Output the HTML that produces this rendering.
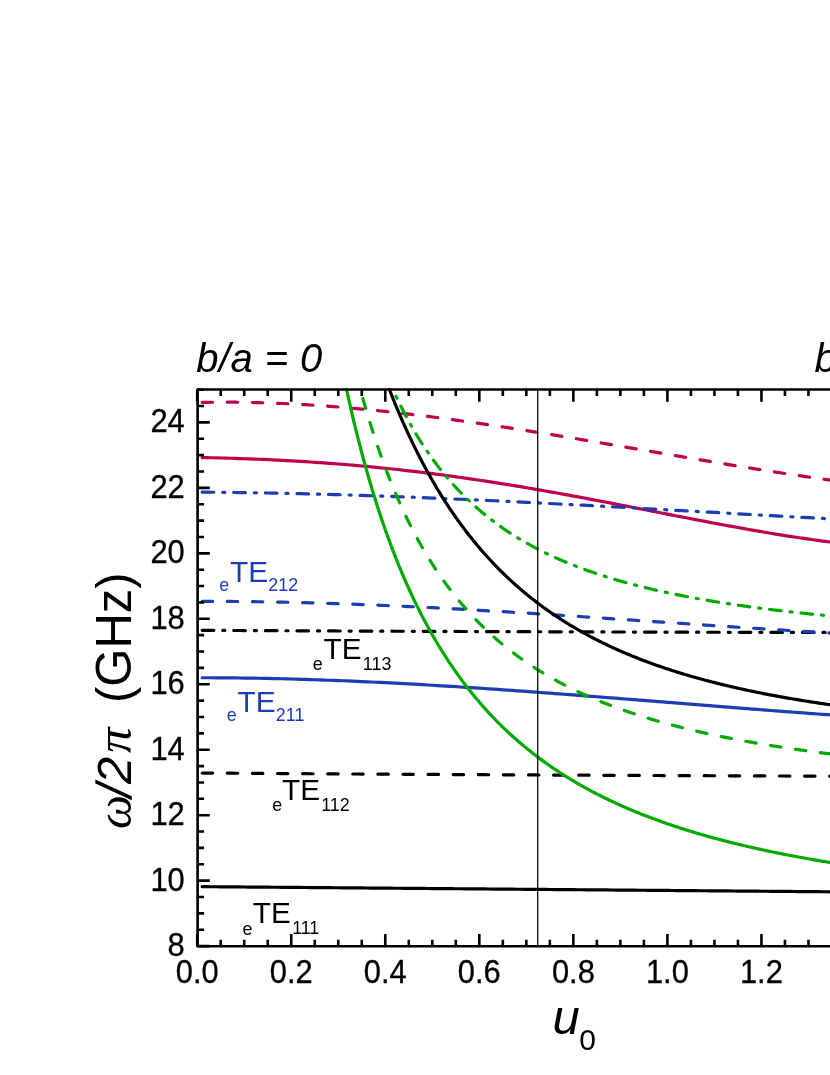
<!DOCTYPE html>
<html><head><meta charset="utf-8"><title>chart</title>
<style>
html,body{margin:0;padding:0;background:#fff;}
body{width:830px;height:1075px;overflow:hidden;font-family:"Liberation Sans",sans-serif;}
svg{display:block;will-change:transform;}
svg text{font-family:"Liberation Sans",sans-serif;}
svg text.ser{font-family:"Liberation Serif",serif;}
</style></head><body>
<svg width="830" height="1075" viewBox="0 0 830 1075">
<rect width="830" height="1075" fill="#fff"/>
<g id="curves">
<path d="M202.20 402.37 L206.90 402.30 L211.60 402.24 L216.30 402.20 L221.00 402.18 L225.70 402.18 L230.40 402.19 L235.10 402.22 L239.80 402.27 L244.50 402.34 L249.20 402.43 L253.90 402.53 L258.60 402.65 L263.30 402.78 L268.00 402.94 L272.70 403.10 L277.40 403.29 L282.10 403.49 L286.80 403.70 L291.50 403.93 L296.20 404.18 L300.90 404.44 L305.60 404.72 L310.30 405.01 L315.00 405.31 L319.70 405.63 L324.40 405.96 L329.10 406.31 L333.80 406.67 L338.50 407.04 L343.20 407.43 L347.90 407.83 L352.60 408.24 L357.30 408.66 L362.00 409.10 L366.70 409.55 L371.40 410.01 L376.10 410.48 L380.80 410.97 L385.50 411.46 L390.20 411.97 L394.90 412.49 L399.60 413.02 L404.30 413.55 L409.00 414.10 L413.70 414.66 L418.40 415.23 L423.10 415.81 L427.80 416.40 L432.50 417.00 L437.20 417.60 L441.90 418.22 L446.60 418.84 L451.30 419.48 L456.00 420.12 L460.70 420.77 L465.40 421.42 L470.10 422.09 L474.80 422.76 L479.50 423.44 L484.20 424.13 L488.90 424.82 L493.60 425.52 L498.30 426.23 L503.00 426.94 L507.70 427.66 L512.40 428.38 L517.10 429.11 L521.80 429.85 L526.50 430.59 L531.20 431.34 L535.90 432.09 L540.60 432.84 L545.30 433.60 L550.00 434.37 L554.70 435.14 L559.40 435.91 L564.10 436.68 L568.80 437.46 L573.50 438.25 L578.20 439.03 L582.90 439.82 L587.60 440.61 L592.30 441.40 L597.00 442.20 L601.70 443.00 L606.40 443.80 L611.10 444.60 L615.80 445.40 L620.50 446.20 L625.20 447.01 L629.90 447.81 L634.60 448.62 L639.30 449.42 L644.00 450.23 L648.70 451.04 L653.40 451.84 L658.10 452.65 L662.80 453.46 L667.50 454.26 L672.20 455.06 L676.90 455.87 L681.60 456.67 L686.30 457.47 L691.00 458.26 L695.70 459.06 L700.40 459.85 L705.10 460.64 L709.80 461.43 L714.50 462.22 L719.20 463.00 L723.90 463.78 L728.60 464.55 L733.30 465.32 L738.00 466.09 L742.70 466.85 L747.40 467.61 L752.10 468.37 L756.80 469.12 L761.50 469.87 L766.20 470.61 L770.90 471.34 L775.60 472.07 L780.30 472.79 L785.00 473.51 L789.70 474.23 L794.40 474.93 L799.10 475.63 L803.80 476.32 L808.50 477.01 L813.20 477.69 L817.90 478.36 L822.60 479.02 L827.30 479.68 L832.00 480.33 L836.70 480.97 L841.40 481.60 L846.10 482.22 L850.80 482.84 L855.50 483.44" fill="none" stroke="#BE0050" stroke-width="3.2" stroke-linecap="round" stroke-linejoin="round" stroke-dasharray="10.4 14.7"/>
<path d="M202.20 457.56 L206.90 457.66 L211.60 457.77 L216.30 457.88 L221.00 458.00 L225.70 458.13 L230.40 458.27 L235.10 458.41 L239.80 458.56 L244.50 458.73 L249.20 458.90 L253.90 459.07 L258.60 459.26 L263.30 459.46 L268.00 459.67 L272.70 459.88 L277.40 460.11 L282.10 460.35 L286.80 460.59 L291.50 460.85 L296.20 461.11 L300.90 461.39 L305.60 461.68 L310.30 461.98 L315.00 462.29 L319.70 462.61 L324.40 462.94 L329.10 463.28 L333.80 463.63 L338.50 464.00 L343.20 464.37 L347.90 464.76 L352.60 465.16 L357.30 465.57 L362.00 465.99 L366.70 466.42 L371.40 466.87 L376.10 467.32 L380.80 467.79 L385.50 468.27 L390.20 468.76 L394.90 469.26 L399.60 469.77 L404.30 470.30 L409.00 470.84 L413.70 471.38 L418.40 471.94 L423.10 472.51 L427.80 473.09 L432.50 473.69 L437.20 474.29 L441.90 474.90 L446.60 475.53 L451.30 476.17 L456.00 476.81 L460.70 477.47 L465.40 478.14 L470.10 478.82 L474.80 479.51 L479.50 480.21 L484.20 480.92 L488.90 481.64 L493.60 482.36 L498.30 483.10 L503.00 483.85 L507.70 484.61 L512.40 485.37 L517.10 486.15 L521.80 486.93 L526.50 487.72 L531.20 488.52 L535.90 489.33 L540.60 490.15 L545.30 490.97 L550.00 491.80 L554.70 492.64 L559.40 493.48 L564.10 494.34 L568.80 495.19 L573.50 496.06 L578.20 496.93 L582.90 497.80 L587.60 498.68 L592.30 499.57 L597.00 500.46 L601.70 501.35 L606.40 502.25 L611.10 503.15 L615.80 504.06 L620.50 504.97 L625.20 505.88 L629.90 506.79 L634.60 507.71 L639.30 508.62 L644.00 509.54 L648.70 510.46 L653.40 511.38 L658.10 512.30 L662.80 513.22 L667.50 514.14 L672.20 515.06 L676.90 515.97 L681.60 516.89 L686.30 517.80 L691.00 518.71 L695.70 519.62 L700.40 520.52 L705.10 521.42 L709.80 522.31 L714.50 523.20 L719.20 524.08 L723.90 524.96 L728.60 525.83 L733.30 526.69 L738.00 527.55 L742.70 528.39 L747.40 529.23 L752.10 530.06 L756.80 530.88 L761.50 531.69 L766.20 532.49 L770.90 533.28 L775.60 534.06 L780.30 534.82 L785.00 535.58 L789.70 536.31 L794.40 537.04 L799.10 537.75 L803.80 538.44 L808.50 539.12 L813.20 539.78 L817.90 540.42 L822.60 541.05 L827.30 541.66 L832.00 542.25 L836.70 542.82 L841.40 543.37 L846.10 543.89 L850.80 544.40 L855.50 544.89" fill="none" stroke="#BE0050" stroke-width="3.2" stroke-linecap="round" stroke-linejoin="round"/>
<path d="M202.20 492.17 L206.90 492.20 L211.60 492.24 L216.30 492.28 L221.00 492.32 L225.70 492.37 L230.40 492.42 L235.10 492.48 L239.80 492.54 L244.50 492.60 L249.20 492.67 L253.90 492.75 L258.60 492.82 L263.30 492.90 L268.00 492.99 L272.70 493.08 L277.40 493.17 L282.10 493.26 L286.80 493.36 L291.50 493.47 L296.20 493.57 L300.90 493.68 L305.60 493.80 L310.30 493.91 L315.00 494.03 L319.70 494.16 L324.40 494.28 L329.10 494.41 L333.80 494.55 L338.50 494.68 L343.20 494.82 L347.90 494.97 L352.60 495.11 L357.30 495.26 L362.00 495.41 L366.70 495.57 L371.40 495.73 L376.10 495.89 L380.80 496.05 L385.50 496.22 L390.20 496.39 L394.90 496.56 L399.60 496.73 L404.30 496.91 L409.00 497.09 L413.70 497.27 L418.40 497.46 L423.10 497.65 L427.80 497.84 L432.50 498.03 L437.20 498.22 L441.90 498.42 L446.60 498.62 L451.30 498.82 L456.00 499.03 L460.70 499.23 L465.40 499.44 L470.10 499.65 L474.80 499.86 L479.50 500.08 L484.20 500.29 L488.90 500.51 L493.60 500.73 L498.30 500.95 L503.00 501.18 L507.70 501.40 L512.40 501.63 L517.10 501.86 L521.80 502.09 L526.50 502.32 L531.20 502.56 L535.90 502.79 L540.60 503.03 L545.30 503.27 L550.00 503.51 L554.70 503.75 L559.40 503.99 L564.10 504.23 L568.80 504.48 L573.50 504.72 L578.20 504.97 L582.90 505.22 L587.60 505.47 L592.30 505.72 L597.00 505.97 L601.70 506.22 L606.40 506.48 L611.10 506.73 L615.80 506.99 L620.50 507.24 L625.20 507.50 L629.90 507.76 L634.60 508.02 L639.30 508.27 L644.00 508.53 L648.70 508.79 L653.40 509.06 L658.10 509.32 L662.80 509.58 L667.50 509.84 L672.20 510.10 L676.90 510.37 L681.60 510.63 L686.30 510.89 L691.00 511.15 L695.70 511.42 L700.40 511.68 L705.10 511.95 L709.80 512.21 L714.50 512.47 L719.20 512.74 L723.90 513.00 L728.60 513.27 L733.30 513.53 L738.00 513.79 L742.70 514.06 L747.40 514.32 L752.10 514.58 L756.80 514.84 L761.50 515.11 L766.20 515.37 L770.90 515.63 L775.60 515.89 L780.30 516.15 L785.00 516.41 L789.70 516.67 L794.40 516.92 L799.10 517.18 L803.80 517.44 L808.50 517.69 L813.20 517.95 L817.90 518.20 L822.60 518.46 L827.30 518.71 L832.00 518.96 L836.70 519.21 L841.40 519.46 L846.10 519.71 L850.80 519.96 L855.50 520.20" fill="none" stroke="#1A3CB4" stroke-width="3.2" stroke-linecap="round" stroke-linejoin="round" stroke-dasharray="11.6 8.95 2.1 8.94"/>
<path d="M202.20 630.33 L206.90 630.36 L211.60 630.38 L216.30 630.41 L221.00 630.43 L225.70 630.45 L230.40 630.48 L235.10 630.50 L239.80 630.52 L244.50 630.55 L249.20 630.57 L253.90 630.59 L258.60 630.62 L263.30 630.64 L268.00 630.66 L272.70 630.68 L277.40 630.71 L282.10 630.73 L286.80 630.75 L291.50 630.77 L296.20 630.80 L300.90 630.82 L305.60 630.84 L310.30 630.86 L315.00 630.88 L319.70 630.90 L324.40 630.92 L329.10 630.94 L333.80 630.97 L338.50 630.99 L343.20 631.01 L347.90 631.03 L352.60 631.05 L357.30 631.07 L362.00 631.09 L366.70 631.11 L371.40 631.13 L376.10 631.15 L380.80 631.17 L385.50 631.19 L390.20 631.21 L394.90 631.23 L399.60 631.24 L404.30 631.26 L409.00 631.28 L413.70 631.30 L418.40 631.32 L423.10 631.34 L427.80 631.36 L432.50 631.38 L437.20 631.39 L441.90 631.41 L446.60 631.43 L451.30 631.45 L456.00 631.46 L460.70 631.48 L465.40 631.50 L470.10 631.52 L474.80 631.53 L479.50 631.55 L484.20 631.57 L488.90 631.58 L493.60 631.60 L498.30 631.62 L503.00 631.63 L507.70 631.65 L512.40 631.67 L517.10 631.68 L521.80 631.70 L526.50 631.71 L531.20 631.73 L535.90 631.75 L540.60 631.76 L545.30 631.78 L550.00 631.79 L554.70 631.81 L559.40 631.82 L564.10 631.84 L568.80 631.85 L573.50 631.87 L578.20 631.88 L582.90 631.89 L587.60 631.91 L592.30 631.92 L597.00 631.94 L601.70 631.95 L606.40 631.96 L611.10 631.98 L615.80 631.99 L620.50 632.00 L625.20 632.02 L629.90 632.03 L634.60 632.04 L639.30 632.06 L644.00 632.07 L648.70 632.08 L653.40 632.09 L658.10 632.11 L662.80 632.12 L667.50 632.13 L672.20 632.14 L676.90 632.15 L681.60 632.17 L686.30 632.18 L691.00 632.19 L695.70 632.20 L700.40 632.21 L705.10 632.22 L709.80 632.23 L714.50 632.24 L719.20 632.25 L723.90 632.27 L728.60 632.28 L733.30 632.29 L738.00 632.30 L742.70 632.31 L747.40 632.32 L752.10 632.33 L756.80 632.34 L761.50 632.35 L766.20 632.35 L770.90 632.36 L775.60 632.37 L780.30 632.38 L785.00 632.39 L789.70 632.40 L794.40 632.41 L799.10 632.42 L803.80 632.43 L808.50 632.43 L813.20 632.44 L817.90 632.45 L822.60 632.46 L827.30 632.47 L832.00 632.47 L836.70 632.48 L841.40 632.49 L846.10 632.50 L850.80 632.50 L855.50 632.51" fill="none" stroke="#000" stroke-width="3.2" stroke-linecap="round" stroke-linejoin="round" stroke-dasharray="11.6 8.95 2.1 8.94"/>
<path d="M202.20 601.42 L206.90 601.41 L211.60 601.41 L216.30 601.42 L221.00 601.43 L225.70 601.45 L230.40 601.47 L235.10 601.50 L239.80 601.54 L244.50 601.58 L249.20 601.63 L253.90 601.69 L258.60 601.75 L263.30 601.82 L268.00 601.89 L272.70 601.97 L277.40 602.06 L282.10 602.15 L286.80 602.25 L291.50 602.35 L296.20 602.46 L300.90 602.58 L305.60 602.70 L310.30 602.82 L315.00 602.95 L319.70 603.09 L324.40 603.23 L329.10 603.37 L333.80 603.53 L338.50 603.68 L343.20 603.84 L347.90 604.01 L352.60 604.18 L357.30 604.35 L362.00 604.53 L366.70 604.71 L371.40 604.90 L376.10 605.09 L380.80 605.29 L385.50 605.49 L390.20 605.70 L394.90 605.91 L399.60 606.12 L404.30 606.34 L409.00 606.56 L413.70 606.78 L418.40 607.01 L423.10 607.24 L427.80 607.48 L432.50 607.72 L437.20 607.96 L441.90 608.20 L446.60 608.45 L451.30 608.70 L456.00 608.96 L460.70 609.22 L465.40 609.48 L470.10 609.74 L474.80 610.01 L479.50 610.28 L484.20 610.55 L488.90 610.83 L493.60 611.10 L498.30 611.38 L503.00 611.66 L507.70 611.95 L512.40 612.24 L517.10 612.52 L521.80 612.82 L526.50 613.11 L531.20 613.40 L535.90 613.70 L540.60 614.00 L545.30 614.30 L550.00 614.60 L554.70 614.91 L559.40 615.21 L564.10 615.52 L568.80 615.83 L573.50 616.14 L578.20 616.45 L582.90 616.76 L587.60 617.07 L592.30 617.39 L597.00 617.70 L601.70 618.02 L606.40 618.33 L611.10 618.65 L615.80 618.97 L620.50 619.29 L625.20 619.61 L629.90 619.93 L634.60 620.25 L639.30 620.57 L644.00 620.89 L648.70 621.21 L653.40 621.53 L658.10 621.85 L662.80 622.17 L667.50 622.49 L672.20 622.81 L676.90 623.13 L681.60 623.45 L686.30 623.77 L691.00 624.09 L695.70 624.41 L700.40 624.72 L705.10 625.04 L709.80 625.36 L714.50 625.67 L719.20 625.99 L723.90 626.30 L728.60 626.61 L733.30 626.92 L738.00 627.23 L742.70 627.54 L747.40 627.85 L752.10 628.16 L756.80 628.46 L761.50 628.76 L766.20 629.07 L770.90 629.36 L775.60 629.66 L780.30 629.96 L785.00 630.25 L789.70 630.54 L794.40 630.83 L799.10 631.12 L803.80 631.41 L808.50 631.69 L813.20 631.97 L817.90 632.25 L822.60 632.53 L827.30 632.80 L832.00 633.07 L836.70 633.34 L841.40 633.60 L846.10 633.87 L850.80 634.13 L855.50 634.38" fill="none" stroke="#1A3CB4" stroke-width="3.2" stroke-linecap="round" stroke-linejoin="round" stroke-dasharray="10.4 14.7"/>
<path d="M202.20 677.75 L206.90 677.75 L211.60 677.76 L216.30 677.78 L221.00 677.81 L225.70 677.84 L230.40 677.88 L235.10 677.93 L239.80 677.98 L244.50 678.04 L249.20 678.11 L253.90 678.18 L258.60 678.26 L263.30 678.35 L268.00 678.45 L272.70 678.55 L277.40 678.65 L282.10 678.77 L286.80 678.88 L291.50 679.01 L296.20 679.14 L300.90 679.28 L305.60 679.42 L310.30 679.57 L315.00 679.73 L319.70 679.89 L324.40 680.05 L329.10 680.23 L333.80 680.40 L338.50 680.59 L343.20 680.77 L347.90 680.97 L352.60 681.16 L357.30 681.37 L362.00 681.58 L366.70 681.79 L371.40 682.01 L376.10 682.23 L380.80 682.46 L385.50 682.69 L390.20 682.93 L394.90 683.17 L399.60 683.42 L404.30 683.67 L409.00 683.92 L413.70 684.18 L418.40 684.44 L423.10 684.71 L427.80 684.98 L432.50 685.25 L437.20 685.53 L441.90 685.82 L446.60 686.10 L451.30 686.39 L456.00 686.68 L460.70 686.98 L465.40 687.28 L470.10 687.58 L474.80 687.89 L479.50 688.20 L484.20 688.51 L488.90 688.83 L493.60 689.15 L498.30 689.47 L503.00 689.79 L507.70 690.12 L512.40 690.45 L517.10 690.78 L521.80 691.12 L526.50 691.46 L531.20 691.80 L535.90 692.14 L540.60 692.48 L545.30 692.83 L550.00 693.18 L554.70 693.53 L559.40 693.88 L564.10 694.23 L568.80 694.59 L573.50 694.94 L578.20 695.30 L582.90 695.66 L587.60 696.03 L592.30 696.39 L597.00 696.75 L601.70 697.12 L606.40 697.49 L611.10 697.86 L615.80 698.22 L620.50 698.59 L625.20 698.97 L629.90 699.34 L634.60 699.71 L639.30 700.08 L644.00 700.46 L648.70 700.83 L653.40 701.20 L658.10 701.58 L662.80 701.95 L667.50 702.33 L672.20 702.71 L676.90 703.08 L681.60 703.46 L686.30 703.83 L691.00 704.21 L695.70 704.58 L700.40 704.96 L705.10 705.33 L709.80 705.70 L714.50 706.08 L719.20 706.45 L723.90 706.82 L728.60 707.19 L733.30 707.56 L738.00 707.93 L742.70 708.30 L747.40 708.67 L752.10 709.03 L756.80 709.40 L761.50 709.76 L766.20 710.13 L770.90 710.49 L775.60 710.85 L780.30 711.20 L785.00 711.56 L789.70 711.91 L794.40 712.27 L799.10 712.62 L803.80 712.97 L808.50 713.31 L813.20 713.66 L817.90 714.00 L822.60 714.34 L827.30 714.68 L832.00 715.01 L836.70 715.35 L841.40 715.68 L846.10 716.00 L850.80 716.33 L855.50 716.65" fill="none" stroke="#1A3CB4" stroke-width="3.2" stroke-linecap="round" stroke-linejoin="round"/>
<path d="M202.20 773.03 L206.90 773.06 L211.60 773.09 L216.30 773.13 L221.00 773.16 L225.70 773.19 L230.40 773.22 L235.10 773.25 L239.80 773.28 L244.50 773.31 L249.20 773.34 L253.90 773.37 L258.60 773.40 L263.30 773.43 L268.00 773.46 L272.70 773.49 L277.40 773.52 L282.10 773.55 L286.80 773.58 L291.50 773.61 L296.20 773.64 L300.90 773.67 L305.60 773.70 L310.30 773.73 L315.00 773.75 L319.70 773.78 L324.40 773.81 L329.10 773.84 L333.80 773.87 L338.50 773.90 L343.20 773.92 L347.90 773.95 L352.60 773.98 L357.30 774.01 L362.00 774.03 L366.70 774.06 L371.40 774.09 L376.10 774.12 L380.80 774.14 L385.50 774.17 L390.20 774.20 L394.90 774.22 L399.60 774.25 L404.30 774.28 L409.00 774.30 L413.70 774.33 L418.40 774.36 L423.10 774.38 L427.80 774.41 L432.50 774.43 L437.20 774.46 L441.90 774.48 L446.60 774.51 L451.30 774.53 L456.00 774.56 L460.70 774.58 L465.40 774.61 L470.10 774.63 L474.80 774.66 L479.50 774.68 L484.20 774.71 L488.90 774.73 L493.60 774.75 L498.30 774.78 L503.00 774.80 L507.70 774.83 L512.40 774.85 L517.10 774.87 L521.80 774.90 L526.50 774.92 L531.20 774.94 L535.90 774.97 L540.60 774.99 L545.30 775.01 L550.00 775.03 L554.70 775.06 L559.40 775.08 L564.10 775.10 L568.80 775.12 L573.50 775.15 L578.20 775.17 L582.90 775.19 L587.60 775.21 L592.30 775.23 L597.00 775.25 L601.70 775.28 L606.40 775.30 L611.10 775.32 L615.80 775.34 L620.50 775.36 L625.20 775.38 L629.90 775.40 L634.60 775.42 L639.30 775.44 L644.00 775.46 L648.70 775.48 L653.40 775.50 L658.10 775.52 L662.80 775.54 L667.50 775.56 L672.20 775.58 L676.90 775.60 L681.60 775.62 L686.30 775.64 L691.00 775.66 L695.70 775.67 L700.40 775.69 L705.10 775.71 L709.80 775.73 L714.50 775.75 L719.20 775.77 L723.90 775.79 L728.60 775.80 L733.30 775.82 L738.00 775.84 L742.70 775.86 L747.40 775.87 L752.10 775.89 L756.80 775.91 L761.50 775.93 L766.20 775.94 L770.90 775.96 L775.60 775.98 L780.30 775.99 L785.00 776.01 L789.70 776.03 L794.40 776.04 L799.10 776.06 L803.80 776.07 L808.50 776.09 L813.20 776.11 L817.90 776.12 L822.60 776.14 L827.30 776.15 L832.00 776.17 L836.70 776.18 L841.40 776.20 L846.10 776.21 L850.80 776.23 L855.50 776.24" fill="none" stroke="#000" stroke-width="3.2" stroke-linecap="round" stroke-linejoin="round" stroke-dasharray="10.4 14.7"/>
<path d="M202.20 886.65 L206.90 886.69 L211.60 886.73 L216.30 886.76 L221.00 886.80 L225.70 886.84 L230.40 886.88 L235.10 886.92 L239.80 886.96 L244.50 887.00 L249.20 887.03 L253.90 887.07 L258.60 887.11 L263.30 887.15 L268.00 887.19 L272.70 887.23 L277.40 887.26 L282.10 887.30 L286.80 887.34 L291.50 887.38 L296.20 887.42 L300.90 887.46 L305.60 887.50 L310.30 887.53 L315.00 887.57 L319.70 887.61 L324.40 887.65 L329.10 887.69 L333.80 887.73 L338.50 887.76 L343.20 887.80 L347.90 887.84 L352.60 887.88 L357.30 887.92 L362.00 887.96 L366.70 888.00 L371.40 888.03 L376.10 888.07 L380.80 888.11 L385.50 888.15 L390.20 888.19 L394.90 888.23 L399.60 888.27 L404.30 888.30 L409.00 888.34 L413.70 888.38 L418.40 888.42 L423.10 888.46 L427.80 888.50 L432.50 888.53 L437.20 888.57 L441.90 888.61 L446.60 888.65 L451.30 888.69 L456.00 888.73 L460.70 888.77 L465.40 888.80 L470.10 888.84 L474.80 888.88 L479.50 888.92 L484.20 888.96 L488.90 889.00 L493.60 889.04 L498.30 889.07 L503.00 889.11 L507.70 889.15 L512.40 889.19 L517.10 889.23 L521.80 889.27 L526.50 889.31 L531.20 889.34 L535.90 889.38 L540.60 889.42 L545.30 889.46 L550.00 889.50 L554.70 889.54 L559.40 889.57 L564.10 889.61 L568.80 889.65 L573.50 889.69 L578.20 889.73 L582.90 889.77 L587.60 889.81 L592.30 889.84 L597.00 889.88 L601.70 889.92 L606.40 889.96 L611.10 890.00 L615.80 890.04 L620.50 890.08 L625.20 890.11 L629.90 890.15 L634.60 890.19 L639.30 890.23 L644.00 890.27 L648.70 890.31 L653.40 890.34 L658.10 890.38 L662.80 890.42 L667.50 890.46 L672.20 890.50 L676.90 890.54 L681.60 890.58 L686.30 890.61 L691.00 890.65 L695.70 890.69 L700.40 890.73 L705.10 890.77 L709.80 890.81 L714.50 890.85 L719.20 890.88 L723.90 890.92 L728.60 890.96 L733.30 891.00 L738.00 891.04 L742.70 891.08 L747.40 891.11 L752.10 891.15 L756.80 891.19 L761.50 891.23 L766.20 891.27 L770.90 891.31 L775.60 891.35 L780.30 891.38 L785.00 891.42 L789.70 891.46 L794.40 891.50 L799.10 891.54 L803.80 891.58 L808.50 891.62 L813.20 891.65 L817.90 891.69 L822.60 891.73 L827.30 891.77 L832.00 891.81 L836.70 891.85 L841.40 891.88 L846.10 891.92 L850.80 891.96 L855.50 892.00" fill="none" stroke="#000" stroke-width="3.2" stroke-linecap="round" stroke-linejoin="round"/>
<path d="M346.57 389.60 L347.51 393.89 L348.87 399.98 L350.22 405.96 L351.58 411.84 L352.93 417.60 L354.28 423.27 L355.64 428.83 L356.99 434.30 L358.35 439.67 L359.70 444.95 L361.06 450.13 L362.41 455.23 L363.77 460.24 L365.12 465.17 L366.48 470.01 L367.83 474.78 L369.19 479.46 L370.54 484.07 L371.89 488.60 L373.25 493.06 L374.60 497.45 L375.96 501.77 L377.31 506.02 L378.67 510.20 L380.02 514.32 L381.38 518.37 L382.73 522.36 L384.09 526.29 L385.44 530.16 L386.80 533.97 L388.15 537.72 L389.51 541.42 L390.86 545.06 L392.21 548.65 L393.57 552.18 L394.92 555.66 L396.28 559.09 L397.63 562.48 L398.99 565.81 L400.34 569.10 L401.70 572.33 L403.05 575.53 L404.41 578.68 L405.76 581.78 L407.12 584.84 L408.47 587.86 L409.82 590.84 L411.18 593.77 L412.53 596.67 L413.89 599.53 L415.24 602.34 L416.60 605.12 L417.95 607.87 L419.31 610.57 L420.66 613.25 L422.02 615.88 L423.37 618.48 L424.73 621.05 L426.08 623.59 L427.43 626.09 L428.79 628.56 L430.14 631.00 L431.50 633.40 L432.85 635.78 L434.21 638.13 L435.56 640.44 L436.92 642.73 L438.27 644.99 L439.63 647.23 L440.98 649.43 L442.34 651.61 L443.69 653.76 L445.05 655.88 L446.40 657.98 L447.75 660.06 L449.11 662.11 L450.46 664.13 L451.82 666.14 L453.17 668.11 L454.53 670.07 L455.88 672.00 L457.24 673.91 L458.59 675.79 L459.95 677.66 L461.30 679.50 L462.66 681.33 L464.01 683.13 L465.36 684.91 L466.72 686.67 L468.07 688.41 L469.43 690.13 L470.78 691.84 L472.14 693.52 L473.49 695.18 L474.85 696.83 L476.20 698.46 L477.56 700.07 L478.91 701.66 L480.27 703.24 L481.62 704.80 L482.97 706.34 L484.33 707.86 L485.68 709.37 L487.04 710.87 L488.39 712.34 L489.75 713.80 L491.10 715.25 L492.46 716.68 L493.81 718.10 L495.17 719.50 L496.52 720.88 L497.88 722.26 L499.23 723.62 L500.59 724.96 L501.94 726.29 L503.29 727.61 L504.65 728.91 L506.00 730.20 L507.36 731.48 L508.71 732.74 L510.07 733.99 L511.42 735.23 L512.78 736.46 L514.13 737.67 L515.49 738.88 L516.84 740.07 L518.20 741.25 L519.55 742.42 L520.90 743.57 L522.26 744.72 L523.61 745.85 L524.97 746.97 L526.32 748.09 L527.68 749.19 L529.03 750.28 L530.39 751.36 L531.74 752.43 L533.10 753.49 L534.45 754.54 L535.81 755.58 L537.16 756.61 L538.52 757.63 L539.87 758.65 L541.22 759.65 L542.58 760.64 L543.93 761.62 L545.29 762.60 L546.64 763.57 L548.00 764.52 L549.35 765.47 L550.71 766.41 L552.06 767.34 L553.42 768.27 L554.77 769.18 L556.13 770.09 L557.48 770.98 L558.83 771.87 L560.19 772.76 L561.54 773.63 L562.90 774.50 L564.25 775.36 L565.61 776.21 L566.96 777.05 L568.32 777.89 L569.67 778.72 L571.03 779.54 L572.38 780.36 L573.74 781.17 L575.09 781.97 L576.44 782.76 L577.80 783.55 L579.15 784.33 L580.51 785.11 L581.86 785.87 L583.22 786.64 L584.57 787.39 L585.93 788.14 L587.28 788.88 L588.64 789.62 L589.99 790.35 L591.35 791.07 L592.70 791.79 L594.06 792.50 L595.41 793.21 L596.76 793.91 L598.12 794.60 L599.47 795.29 L600.83 795.98 L602.18 796.65 L603.54 797.33 L604.89 797.99 L606.25 798.66 L607.60 799.31 L608.96 799.96 L610.31 800.61 L611.67 801.25 L613.02 801.89 L614.37 802.52 L615.73 803.14 L617.08 803.76 L618.44 804.38 L619.79 804.99 L621.15 805.59 L622.50 806.20 L623.86 806.79 L625.21 807.39 L626.57 807.97 L627.92 808.56 L629.28 809.13 L630.63 809.71 L631.98 810.28 L633.34 810.84 L634.69 811.40 L636.05 811.96 L637.40 812.51 L638.76 813.06 L640.11 813.61 L641.47 814.15 L642.82 814.68 L644.18 815.21 L645.53 815.74 L646.89 816.27 L648.24 816.79 L649.60 817.30 L650.95 817.82 L652.30 818.33 L653.66 818.83 L655.01 819.33 L656.37 819.83 L657.72 820.32 L659.08 820.81 L660.43 821.30 L661.79 821.78 L663.14 822.26 L664.50 822.74 L665.85 823.21 L667.21 823.68 L668.56 824.15 L669.91 824.61 L671.27 825.07 L672.62 825.53 L673.98 825.98 L675.33 826.43 L676.69 826.88 L678.04 827.32 L679.40 827.76 L680.75 828.20 L682.11 828.63 L683.46 829.07 L684.82 829.49 L686.17 829.92 L687.53 830.34 L688.88 830.76 L690.23 831.18 L691.59 831.59 L692.94 832.00 L694.30 832.41 L695.65 832.81 L697.01 833.22 L698.36 833.62 L699.72 834.01 L701.07 834.41 L702.43 834.80 L703.78 835.19 L705.14 835.57 L706.49 835.96 L707.84 836.34 L709.20 836.72 L710.55 837.09 L711.91 837.47 L713.26 837.84 L714.62 838.21 L715.97 838.57 L717.33 838.94 L718.68 839.30 L720.04 839.66 L721.39 840.02 L722.75 840.37 L724.10 840.72 L725.45 841.07 L726.81 841.42 L728.16 841.76 L729.52 842.11 L730.87 842.45 L732.23 842.79 L733.58 843.12 L734.94 843.46 L736.29 843.79 L737.65 844.12 L739.00 844.45 L740.36 844.77 L741.71 845.10 L743.07 845.42 L744.42 845.74 L745.77 846.06 L747.13 846.37 L748.48 846.69 L749.84 847.00 L751.19 847.31 L752.55 847.61 L753.90 847.92 L755.26 848.22 L756.61 848.53 L757.97 848.83 L759.32 849.13 L760.68 849.42 L762.03 849.72 L763.38 850.01 L764.74 850.30 L766.09 850.59 L767.45 850.88 L768.80 851.16 L770.16 851.45 L771.51 851.73 L772.87 852.01 L774.22 852.29 L775.58 852.57 L776.93 852.84 L778.29 853.12 L779.64 853.39 L780.99 853.66 L782.35 853.93 L783.70 854.20 L785.06 854.46 L786.41 854.73 L787.77 854.99 L789.12 855.25 L790.48 855.51 L791.83 855.77 L793.19 856.02 L794.54 856.28 L795.90 856.53 L797.25 856.78 L798.61 857.04 L799.96 857.28 L801.31 857.53 L802.67 857.78 L804.02 858.02 L805.38 858.27 L806.73 858.51 L808.09 858.75 L809.44 858.99 L810.80 859.23 L812.15 859.46 L813.51 859.70 L814.86 859.93 L816.22 860.16 L817.57 860.40 L818.92 860.63 L820.28 860.85 L821.63 861.08 L822.99 861.31 L824.34 861.53 L825.70 861.76 L827.05 861.98 L828.41 862.20 L829.76 862.42 L831.12 862.64 L832.47 862.85 L833.83 863.07 L835.18 863.29 L836.54 863.50 L837.89 863.71 L839.24 863.92 L840.60 864.13 L841.95 864.34 L843.31 864.55 L844.66 864.76 L846.02 864.96 L847.37 865.17 L848.73 865.37 L850.08 865.57 L851.44 865.77 L852.79 865.97 L854.15 866.17 L855.50 866.37" fill="none" stroke="#00AA00" stroke-width="3.2" stroke-linecap="round" stroke-linejoin="round"/>
<path d="M360.44 389.60 L361.06 391.88 L362.41 396.79 L363.77 401.61 L365.12 406.34 L366.48 410.99 L367.83 415.55 L369.19 420.03 L370.54 424.42 L371.89 428.74 L373.25 432.99 L374.60 437.15 L375.96 441.25 L377.31 445.27 L378.67 449.22 L380.02 453.11 L381.38 456.93 L382.73 460.68 L384.09 464.38 L385.44 468.01 L386.80 471.57 L388.15 475.08 L389.51 478.54 L390.86 481.93 L392.21 485.27 L393.57 488.56 L394.92 491.80 L396.28 494.98 L397.63 498.11 L398.99 501.19 L400.34 504.23 L401.70 507.22 L403.05 510.16 L404.41 513.05 L405.76 515.90 L407.12 518.71 L408.47 521.48 L409.82 524.20 L411.18 526.88 L412.53 529.52 L413.89 532.13 L415.24 534.69 L416.60 537.22 L417.95 539.71 L419.31 542.16 L420.66 544.58 L422.02 546.97 L423.37 549.32 L424.73 551.63 L426.08 553.91 L427.43 556.17 L428.79 558.39 L430.14 560.57 L431.50 562.73 L432.85 564.86 L434.21 566.96 L435.56 569.03 L436.92 571.07 L438.27 573.09 L439.63 575.07 L440.98 577.03 L442.34 578.97 L443.69 580.88 L445.05 582.76 L446.40 584.62 L447.75 586.45 L449.11 588.26 L450.46 590.05 L451.82 591.81 L453.17 593.56 L454.53 595.27 L455.88 596.97 L457.24 598.65 L458.59 600.30 L459.95 601.93 L461.30 603.55 L462.66 605.14 L464.01 606.71 L465.36 608.26 L466.72 609.80 L468.07 611.31 L469.43 612.81 L470.78 614.29 L472.14 615.75 L473.49 617.19 L474.85 618.62 L476.20 620.02 L477.56 621.42 L478.91 622.79 L480.27 624.15 L481.62 625.49 L482.97 626.82 L484.33 628.13 L485.68 629.43 L487.04 630.71 L488.39 631.98 L489.75 633.23 L491.10 634.47 L492.46 635.69 L493.81 636.90 L495.17 638.09 L496.52 639.28 L497.88 640.45 L499.23 641.60 L500.59 642.74 L501.94 643.88 L503.29 644.99 L504.65 646.10 L506.00 647.19 L507.36 648.27 L508.71 649.34 L510.07 650.40 L511.42 651.45 L512.78 652.48 L514.13 653.51 L515.49 654.52 L516.84 655.52 L518.20 656.52 L519.55 657.50 L520.90 658.47 L522.26 659.43 L523.61 660.38 L524.97 661.32 L526.32 662.25 L527.68 663.17 L529.03 664.09 L530.39 664.99 L531.74 665.88 L533.10 666.77 L534.45 667.64 L535.81 668.51 L537.16 669.37 L538.52 670.22 L539.87 671.06 L541.22 671.89 L542.58 672.71 L543.93 673.53 L545.29 674.34 L546.64 675.13 L548.00 675.93 L549.35 676.71 L550.71 677.49 L552.06 678.26 L553.42 679.02 L554.77 679.77 L556.13 680.52 L557.48 681.26 L558.83 681.99 L560.19 682.72 L561.54 683.43 L562.90 684.15 L564.25 684.85 L565.61 685.55 L566.96 686.24 L568.32 686.93 L569.67 687.61 L571.03 688.28 L572.38 688.94 L573.74 689.61 L575.09 690.26 L576.44 690.91 L577.80 691.55 L579.15 692.19 L580.51 692.82 L581.86 693.44 L583.22 694.06 L584.57 694.67 L585.93 695.28 L587.28 695.89 L588.64 696.48 L589.99 697.08 L591.35 697.66 L592.70 698.24 L594.06 698.82 L595.41 699.39 L596.76 699.96 L598.12 700.52 L599.47 701.08 L600.83 701.63 L602.18 702.18 L603.54 702.72 L604.89 703.25 L606.25 703.79 L607.60 704.32 L608.96 704.84 L610.31 705.36 L611.67 705.87 L613.02 706.39 L614.37 706.89 L615.73 707.39 L617.08 707.89 L618.44 708.39 L619.79 708.88 L621.15 709.36 L622.50 709.84 L623.86 710.32 L625.21 710.79 L626.57 711.26 L627.92 711.73 L629.28 712.19 L630.63 712.65 L631.98 713.10 L633.34 713.56 L634.69 714.00 L636.05 714.45 L637.40 714.89 L638.76 715.32 L640.11 715.76 L641.47 716.19 L642.82 716.61 L644.18 717.04 L645.53 717.45 L646.89 717.87 L648.24 718.28 L649.60 718.69 L650.95 719.10 L652.30 719.50 L653.66 719.90 L655.01 720.30 L656.37 720.69 L657.72 721.09 L659.08 721.47 L660.43 721.86 L661.79 722.24 L663.14 722.62 L664.50 723.00 L665.85 723.37 L667.21 723.74 L668.56 724.11 L669.91 724.47 L671.27 724.84 L672.62 725.20 L673.98 725.55 L675.33 725.91 L676.69 726.26 L678.04 726.61 L679.40 726.95 L680.75 727.30 L682.11 727.64 L683.46 727.98 L684.82 728.31 L686.17 728.65 L687.53 728.98 L688.88 729.31 L690.23 729.63 L691.59 729.96 L692.94 730.28 L694.30 730.60 L695.65 730.92 L697.01 731.23 L698.36 731.55 L699.72 731.86 L701.07 732.17 L702.43 732.47 L703.78 732.78 L705.14 733.08 L706.49 733.38 L707.84 733.68 L709.20 733.97 L710.55 734.26 L711.91 734.56 L713.26 734.85 L714.62 735.13 L715.97 735.42 L717.33 735.70 L718.68 735.98 L720.04 736.26 L721.39 736.54 L722.75 736.82 L724.10 737.09 L725.45 737.36 L726.81 737.63 L728.16 737.90 L729.52 738.17 L730.87 738.43 L732.23 738.70 L733.58 738.96 L734.94 739.22 L736.29 739.48 L737.65 739.73 L739.00 739.99 L740.36 740.24 L741.71 740.49 L743.07 740.74 L744.42 740.99 L745.77 741.23 L747.13 741.48 L748.48 741.72 L749.84 741.96 L751.19 742.20 L752.55 742.44 L753.90 742.68 L755.26 742.91 L756.61 743.15 L757.97 743.38 L759.32 743.61 L760.68 743.84 L762.03 744.07 L763.38 744.29 L764.74 744.52 L766.09 744.74 L767.45 744.96 L768.80 745.18 L770.16 745.40 L771.51 745.62 L772.87 745.84 L774.22 746.05 L775.58 746.27 L776.93 746.48 L778.29 746.69 L779.64 746.90 L780.99 747.11 L782.35 747.31 L783.70 747.52 L785.06 747.73 L786.41 747.93 L787.77 748.13 L789.12 748.33 L790.48 748.53 L791.83 748.73 L793.19 748.93 L794.54 749.12 L795.90 749.32 L797.25 749.51 L798.61 749.70 L799.96 749.90 L801.31 750.09 L802.67 750.28 L804.02 750.46 L805.38 750.65 L806.73 750.84 L808.09 751.02 L809.44 751.21 L810.80 751.39 L812.15 751.57 L813.51 751.75 L814.86 751.93 L816.22 752.11 L817.57 752.28 L818.92 752.46 L820.28 752.64 L821.63 752.81 L822.99 752.98 L824.34 753.16 L825.70 753.33 L827.05 753.50 L828.41 753.67 L829.76 753.83 L831.12 754.00 L832.47 754.17 L833.83 754.33 L835.18 754.50 L836.54 754.66 L837.89 754.82 L839.24 754.99 L840.60 755.15 L841.95 755.31 L843.31 755.47 L844.66 755.62 L846.02 755.78 L847.37 755.94 L848.73 756.09 L850.08 756.25 L851.44 756.40 L852.79 756.55 L854.15 756.71 L855.50 756.86" fill="none" stroke="#00AA00" stroke-width="3.2" stroke-linecap="round" stroke-linejoin="round" stroke-dasharray="10.4 14.7" stroke-dashoffset="-9.2"/>
<path d="M392.99 389.60 L393.57 390.87 L394.92 393.83 L396.28 396.73 L397.63 399.58 L398.99 402.38 L400.34 405.13 L401.70 407.84 L403.05 410.50 L404.41 413.12 L405.76 415.70 L407.12 418.23 L408.47 420.72 L409.82 423.17 L411.18 425.58 L412.53 427.95 L413.89 430.29 L415.24 432.59 L416.60 434.85 L417.95 437.07 L419.31 439.26 L420.66 441.42 L422.02 443.54 L423.37 445.63 L424.73 447.69 L426.08 449.71 L427.43 451.71 L428.79 453.67 L430.14 455.61 L431.50 457.51 L432.85 459.39 L434.21 461.24 L435.56 463.06 L436.92 464.86 L438.27 466.63 L439.63 468.37 L440.98 470.09 L442.34 471.79 L443.69 473.46 L445.05 475.10 L446.40 476.73 L447.75 478.33 L449.11 479.90 L450.46 481.46 L451.82 482.99 L453.17 484.50 L454.53 485.99 L455.88 487.47 L457.24 488.92 L458.59 490.35 L459.95 491.76 L461.30 493.15 L462.66 494.53 L464.01 495.88 L465.36 497.22 L466.72 498.54 L468.07 499.84 L469.43 501.12 L470.78 502.39 L472.14 503.64 L473.49 504.88 L474.85 506.10 L476.20 507.30 L477.56 508.49 L478.91 509.67 L480.27 510.82 L481.62 511.97 L482.97 513.10 L484.33 514.21 L485.68 515.31 L487.04 516.40 L488.39 517.48 L489.75 518.54 L491.10 519.58 L492.46 520.62 L493.81 521.64 L495.17 522.65 L496.52 523.65 L497.88 524.64 L499.23 525.61 L500.59 526.57 L501.94 527.52 L503.29 528.46 L504.65 529.39 L506.00 530.31 L507.36 531.22 L508.71 532.11 L510.07 533.00 L511.42 533.88 L512.78 534.74 L514.13 535.60 L515.49 536.44 L516.84 537.28 L518.20 538.11 L519.55 538.92 L520.90 539.73 L522.26 540.53 L523.61 541.32 L524.97 542.10 L526.32 542.88 L527.68 543.64 L529.03 544.40 L530.39 545.15 L531.74 545.88 L533.10 546.62 L534.45 547.34 L535.81 548.06 L537.16 548.76 L538.52 549.46 L539.87 550.16 L541.22 550.84 L542.58 551.52 L543.93 552.19 L545.29 552.86 L546.64 553.51 L548.00 554.16 L549.35 554.81 L550.71 555.44 L552.06 556.07 L553.42 556.70 L554.77 557.32 L556.13 557.93 L557.48 558.53 L558.83 559.13 L560.19 559.72 L561.54 560.31 L562.90 560.89 L564.25 561.46 L565.61 562.03 L566.96 562.60 L568.32 563.15 L569.67 563.71 L571.03 564.25 L572.38 564.79 L573.74 565.33 L575.09 565.86 L576.44 566.39 L577.80 566.91 L579.15 567.42 L580.51 567.93 L581.86 568.44 L583.22 568.94 L584.57 569.44 L585.93 569.93 L587.28 570.42 L588.64 570.90 L589.99 571.38 L591.35 571.85 L592.70 572.32 L594.06 572.78 L595.41 573.24 L596.76 573.70 L598.12 574.15 L599.47 574.60 L600.83 575.04 L602.18 575.48 L603.54 575.91 L604.89 576.35 L606.25 576.77 L607.60 577.20 L608.96 577.62 L610.31 578.03 L611.67 578.44 L613.02 578.85 L614.37 579.26 L615.73 579.66 L617.08 580.06 L618.44 580.45 L619.79 580.84 L621.15 581.23 L622.50 581.61 L623.86 581.99 L625.21 582.37 L626.57 582.75 L627.92 583.12 L629.28 583.48 L630.63 583.85 L631.98 584.21 L633.34 584.57 L634.69 584.92 L636.05 585.28 L637.40 585.63 L638.76 585.97 L640.11 586.32 L641.47 586.66 L642.82 586.99 L644.18 587.33 L645.53 587.66 L646.89 587.99 L648.24 588.32 L649.60 588.64 L650.95 588.96 L652.30 589.28 L653.66 589.60 L655.01 589.91 L656.37 590.22 L657.72 590.53 L659.08 590.84 L660.43 591.14 L661.79 591.44 L663.14 591.74 L664.50 592.04 L665.85 592.33 L667.21 592.62 L668.56 592.91 L669.91 593.20 L671.27 593.48 L672.62 593.76 L673.98 594.04 L675.33 594.32 L676.69 594.60 L678.04 594.87 L679.40 595.14 L680.75 595.41 L682.11 595.68 L683.46 595.95 L684.82 596.21 L686.17 596.47 L687.53 596.73 L688.88 596.99 L690.23 597.24 L691.59 597.50 L692.94 597.75 L694.30 598.00 L695.65 598.25 L697.01 598.49 L698.36 598.74 L699.72 598.98 L701.07 599.22 L702.43 599.46 L703.78 599.69 L705.14 599.93 L706.49 600.16 L707.84 600.40 L709.20 600.63 L710.55 600.85 L711.91 601.08 L713.26 601.31 L714.62 601.53 L715.97 601.75 L717.33 601.97 L718.68 602.19 L720.04 602.41 L721.39 602.62 L722.75 602.84 L724.10 603.05 L725.45 603.26 L726.81 603.47 L728.16 603.68 L729.52 603.89 L730.87 604.09 L732.23 604.29 L733.58 604.50 L734.94 604.70 L736.29 604.90 L737.65 605.10 L739.00 605.29 L740.36 605.49 L741.71 605.68 L743.07 605.87 L744.42 606.07 L745.77 606.26 L747.13 606.45 L748.48 606.63 L749.84 606.82 L751.19 607.00 L752.55 607.19 L753.90 607.37 L755.26 607.55 L756.61 607.73 L757.97 607.91 L759.32 608.09 L760.68 608.26 L762.03 608.44 L763.38 608.61 L764.74 608.79 L766.09 608.96 L767.45 609.13 L768.80 609.30 L770.16 609.47 L771.51 609.64 L772.87 609.80 L774.22 609.97 L775.58 610.13 L776.93 610.29 L778.29 610.46 L779.64 610.62 L780.99 610.78 L782.35 610.94 L783.70 611.09 L785.06 611.25 L786.41 611.41 L787.77 611.56 L789.12 611.72 L790.48 611.87 L791.83 612.02 L793.19 612.17 L794.54 612.32 L795.90 612.47 L797.25 612.62 L798.61 612.77 L799.96 612.91 L801.31 613.06 L802.67 613.20 L804.02 613.35 L805.38 613.49 L806.73 613.63 L808.09 613.77 L809.44 613.91 L810.80 614.05 L812.15 614.19 L813.51 614.33 L814.86 614.47 L816.22 614.60 L817.57 614.74 L818.92 614.87 L820.28 615.01 L821.63 615.14 L822.99 615.27 L824.34 615.40 L825.70 615.53 L827.05 615.66 L828.41 615.79 L829.76 615.92 L831.12 616.05 L832.47 616.17 L833.83 616.30 L835.18 616.42 L836.54 616.55 L837.89 616.67 L839.24 616.80 L840.60 616.92 L841.95 617.04 L843.31 617.16 L844.66 617.28 L846.02 617.40 L847.37 617.52 L848.73 617.64 L850.08 617.75 L851.44 617.87 L852.79 617.99 L854.15 618.10 L855.50 618.22" fill="none" stroke="#00AA00" stroke-width="3.2" stroke-linecap="round" stroke-linejoin="round" stroke-dasharray="11.6 8.95 2.1 8.94" stroke-dashoffset="13.2"/>
<path d="M389.43 389.60 L389.51 389.79 L390.86 393.24 L392.21 396.64 L393.57 400.00 L394.92 403.32 L396.28 406.59 L397.63 409.82 L398.99 413.02 L400.34 416.17 L401.70 419.29 L403.05 422.36 L404.41 425.40 L405.76 428.40 L407.12 431.36 L408.47 434.29 L409.82 437.18 L411.18 440.04 L412.53 442.86 L413.89 445.64 L415.24 448.39 L416.60 451.11 L417.95 453.80 L419.31 456.45 L420.66 459.08 L422.02 461.67 L423.37 464.23 L424.73 466.76 L426.08 469.25 L427.43 471.72 L428.79 474.16 L430.14 476.58 L431.50 478.96 L432.85 481.31 L434.21 483.64 L435.56 485.94 L436.92 488.21 L438.27 490.46 L439.63 492.68 L440.98 494.88 L442.34 497.05 L443.69 499.19 L445.05 501.31 L446.40 503.41 L447.75 505.48 L449.11 507.53 L450.46 509.56 L451.82 511.56 L453.17 513.54 L454.53 515.50 L455.88 517.43 L457.24 519.35 L458.59 521.24 L459.95 523.11 L461.30 524.96 L462.66 526.80 L464.01 528.61 L465.36 530.40 L466.72 532.17 L468.07 533.92 L469.43 535.65 L470.78 537.36 L472.14 539.06 L473.49 540.74 L474.85 542.39 L476.20 544.04 L477.56 545.66 L478.91 547.26 L480.27 548.85 L481.62 550.42 L482.97 551.98 L484.33 553.52 L485.68 555.04 L487.04 556.54 L488.39 558.03 L489.75 559.51 L491.10 560.97 L492.46 562.41 L493.81 563.84 L495.17 565.25 L496.52 566.65 L497.88 568.04 L499.23 569.41 L500.59 570.77 L501.94 572.11 L503.29 573.44 L504.65 574.75 L506.00 576.05 L507.36 577.34 L508.71 578.62 L510.07 579.88 L511.42 581.13 L512.78 582.37 L514.13 583.59 L515.49 584.81 L516.84 586.01 L518.20 587.19 L519.55 588.37 L520.90 589.54 L522.26 590.69 L523.61 591.83 L524.97 592.96 L526.32 594.08 L527.68 595.19 L529.03 596.29 L530.39 597.38 L531.74 598.46 L533.10 599.52 L534.45 600.58 L535.81 601.62 L537.16 602.66 L538.52 603.69 L539.87 604.70 L541.22 605.71 L542.58 606.71 L543.93 607.69 L545.29 608.67 L546.64 609.64 L548.00 610.60 L549.35 611.55 L550.71 612.49 L552.06 613.43 L553.42 614.35 L554.77 615.27 L556.13 616.17 L557.48 617.07 L558.83 617.96 L560.19 618.84 L561.54 619.72 L562.90 620.58 L564.25 621.44 L565.61 622.29 L566.96 623.13 L568.32 623.97 L569.67 624.80 L571.03 625.62 L572.38 626.43 L573.74 627.23 L575.09 628.03 L576.44 628.82 L577.80 629.60 L579.15 630.38 L580.51 631.15 L581.86 631.91 L583.22 632.67 L584.57 633.42 L585.93 634.16 L587.28 634.90 L588.64 635.62 L589.99 636.35 L591.35 637.06 L592.70 637.77 L594.06 638.48 L595.41 639.18 L596.76 639.87 L598.12 640.55 L599.47 641.23 L600.83 641.91 L602.18 642.58 L603.54 643.24 L604.89 643.90 L606.25 644.55 L607.60 645.19 L608.96 645.83 L610.31 646.47 L611.67 647.10 L613.02 647.72 L614.37 648.34 L615.73 648.95 L617.08 649.56 L618.44 650.17 L619.79 650.76 L621.15 651.36 L622.50 651.94 L623.86 652.53 L625.21 653.11 L626.57 653.68 L627.92 654.25 L629.28 654.81 L630.63 655.37 L631.98 655.93 L633.34 656.48 L634.69 657.02 L636.05 657.57 L637.40 658.10 L638.76 658.63 L640.11 659.16 L641.47 659.69 L642.82 660.21 L644.18 660.72 L645.53 661.23 L646.89 661.74 L648.24 662.24 L649.60 662.74 L650.95 663.24 L652.30 663.73 L653.66 664.22 L655.01 664.70 L656.37 665.18 L657.72 665.66 L659.08 666.13 L660.43 666.60 L661.79 667.06 L663.14 667.52 L664.50 667.98 L665.85 668.43 L667.21 668.88 L668.56 669.33 L669.91 669.77 L671.27 670.21 L672.62 670.65 L673.98 671.08 L675.33 671.51 L676.69 671.94 L678.04 672.36 L679.40 672.78 L680.75 673.20 L682.11 673.61 L683.46 674.02 L684.82 674.43 L686.17 674.83 L687.53 675.23 L688.88 675.63 L690.23 676.02 L691.59 676.42 L692.94 676.80 L694.30 677.19 L695.65 677.57 L697.01 677.95 L698.36 678.33 L699.72 678.71 L701.07 679.08 L702.43 679.45 L703.78 679.81 L705.14 680.18 L706.49 680.54 L707.84 680.90 L709.20 681.25 L710.55 681.60 L711.91 681.95 L713.26 682.30 L714.62 682.65 L715.97 682.99 L717.33 683.33 L718.68 683.67 L720.04 684.00 L721.39 684.34 L722.75 684.67 L724.10 684.99 L725.45 685.32 L726.81 685.64 L728.16 685.96 L729.52 686.28 L730.87 686.60 L732.23 686.91 L733.58 687.22 L734.94 687.53 L736.29 687.84 L737.65 688.15 L739.00 688.45 L740.36 688.75 L741.71 689.05 L743.07 689.35 L744.42 689.64 L745.77 689.93 L747.13 690.22 L748.48 690.51 L749.84 690.80 L751.19 691.08 L752.55 691.37 L753.90 691.65 L755.26 691.93 L756.61 692.20 L757.97 692.48 L759.32 692.75 L760.68 693.02 L762.03 693.29 L763.38 693.56 L764.74 693.82 L766.09 694.09 L767.45 694.35 L768.80 694.61 L770.16 694.87 L771.51 695.12 L772.87 695.38 L774.22 695.63 L775.58 695.88 L776.93 696.13 L778.29 696.38 L779.64 696.62 L780.99 696.87 L782.35 697.11 L783.70 697.35 L785.06 697.59 L786.41 697.83 L787.77 698.07 L789.12 698.30 L790.48 698.54 L791.83 698.77 L793.19 699.00 L794.54 699.23 L795.90 699.45 L797.25 699.68 L798.61 699.90 L799.96 700.13 L801.31 700.35 L802.67 700.57 L804.02 700.78 L805.38 701.00 L806.73 701.22 L808.09 701.43 L809.44 701.64 L810.80 701.86 L812.15 702.07 L813.51 702.27 L814.86 702.48 L816.22 702.69 L817.57 702.89 L818.92 703.10 L820.28 703.30 L821.63 703.50 L822.99 703.70 L824.34 703.90 L825.70 704.09 L827.05 704.29 L828.41 704.48 L829.76 704.68 L831.12 704.87 L832.47 705.06 L833.83 705.25 L835.18 705.44 L836.54 705.62 L837.89 705.81 L839.24 705.99 L840.60 706.18 L841.95 706.36 L843.31 706.54 L844.66 706.72 L846.02 706.90 L847.37 707.08 L848.73 707.25 L850.08 707.43 L851.44 707.60 L852.79 707.78 L854.15 707.95 L855.50 708.12" fill="none" stroke="#000" stroke-width="3.2" stroke-linecap="round" stroke-linejoin="round"/>
</g>
<g id="axes">
<path d="M835 389.45 H197.6 V946.2 H835" fill="none" stroke="#000" stroke-width="2.6" stroke-linejoin="round"/>
<path d="M197.20 389.45v12.2M197.20 946.20v-12.2M220.71 389.45v6.5M220.71 946.20v-6.5M244.22 389.45v6.5M244.22 946.20v-6.5M267.73 389.45v6.5M267.73 946.20v-6.5M291.24 389.45v12.2M291.24 946.20v-12.2M314.75 389.45v6.5M314.75 946.20v-6.5M338.26 389.45v6.5M338.26 946.20v-6.5M361.77 389.45v6.5M361.77 946.20v-6.5M385.28 389.45v12.2M385.28 946.20v-12.2M408.79 389.45v6.5M408.79 946.20v-6.5M432.30 389.45v6.5M432.30 946.20v-6.5M455.81 389.45v6.5M455.81 946.20v-6.5M479.32 389.45v12.2M479.32 946.20v-12.2M502.83 389.45v6.5M502.83 946.20v-6.5M526.34 389.45v6.5M526.34 946.20v-6.5M549.85 389.45v6.5M549.85 946.20v-6.5M573.36 389.45v12.2M573.36 946.20v-12.2M596.87 389.45v6.5M596.87 946.20v-6.5M620.38 389.45v6.5M620.38 946.20v-6.5M643.89 389.45v6.5M643.89 946.20v-6.5M667.40 389.45v12.2M667.40 946.20v-12.2M690.91 389.45v6.5M690.91 946.20v-6.5M714.42 389.45v6.5M714.42 946.20v-6.5M737.93 389.45v6.5M737.93 946.20v-6.5M761.44 389.45v12.2M761.44 946.20v-12.2M784.95 389.45v6.5M784.95 946.20v-6.5M808.46 389.45v6.5M808.46 946.20v-6.5M831.97 389.45v6.5M831.97 946.20v-6.5M197.60 946.10h12.2M197.60 929.74h6.5M197.60 913.37h6.5M197.60 897.00h6.5M197.60 880.64h12.2M197.60 864.28h6.5M197.60 847.91h6.5M197.60 831.55h6.5M197.60 815.18h12.2M197.60 798.82h6.5M197.60 782.45h6.5M197.60 766.09h6.5M197.60 749.72h12.2M197.60 733.36h6.5M197.60 716.99h6.5M197.60 700.62h6.5M197.60 684.26h12.2M197.60 667.89h6.5M197.60 651.53h6.5M197.60 635.17h6.5M197.60 618.80h12.2M197.60 602.44h6.5M197.60 586.07h6.5M197.60 569.71h6.5M197.60 553.34h12.2M197.60 536.98h6.5M197.60 520.61h6.5M197.60 504.25h6.5M197.60 487.88h12.2M197.60 471.52h6.5M197.60 455.15h6.5M197.60 438.79h6.5M197.60 422.42h12.2M197.60 406.06h6.5M197.60 389.69h6.5" fill="none" stroke="#000" stroke-width="2.6"/>
<path d="M537.7 389.45V946.2" stroke="#000" stroke-width="1.25" fill="none"/>
</g>
<g id="labels">
<text transform="translate(197.2 983.2) scale(1 1.1)" font-size="30.9" text-anchor="middle" stroke="#000" stroke-width="0.3">0.0</text>
<text transform="translate(291.2 983.2) scale(1 1.1)" font-size="30.9" text-anchor="middle" stroke="#000" stroke-width="0.3">0.2</text>
<text transform="translate(385.3 983.2) scale(1 1.1)" font-size="30.9" text-anchor="middle" stroke="#000" stroke-width="0.3">0.4</text>
<text transform="translate(479.3 983.2) scale(1 1.1)" font-size="30.9" text-anchor="middle" stroke="#000" stroke-width="0.3">0.6</text>
<text transform="translate(573.4 983.2) scale(1 1.1)" font-size="30.9" text-anchor="middle" stroke="#000" stroke-width="0.3">0.8</text>
<text transform="translate(667.4 983.2) scale(1 1.1)" font-size="30.9" text-anchor="middle" stroke="#000" stroke-width="0.3">1.0</text>
<text transform="translate(761.4 983.2) scale(1 1.1)" font-size="30.9" text-anchor="middle" stroke="#000" stroke-width="0.3">1.2</text>
<text transform="translate(855.5 983.2) scale(1 1.1)" font-size="30.9" text-anchor="middle" stroke="#000" stroke-width="0.3">1.4</text>
<text transform="translate(184.8 956.1) scale(1 1.1)" font-size="30.9" text-anchor="end" stroke="#000" stroke-width="0.3">8</text>
<text transform="translate(184.8 890.6) scale(1 1.1)" font-size="30.9" text-anchor="end" stroke="#000" stroke-width="0.3">10</text>
<text transform="translate(184.8 825.2) scale(1 1.1)" font-size="30.9" text-anchor="end" stroke="#000" stroke-width="0.3">12</text>
<text transform="translate(184.8 759.7) scale(1 1.1)" font-size="30.9" text-anchor="end" stroke="#000" stroke-width="0.3">14</text>
<text transform="translate(184.8 694.3) scale(1 1.1)" font-size="30.9" text-anchor="end" stroke="#000" stroke-width="0.3">16</text>
<text transform="translate(184.8 628.8) scale(1 1.1)" font-size="30.9" text-anchor="end" stroke="#000" stroke-width="0.3">18</text>
<text transform="translate(184.8 563.3) scale(1 1.1)" font-size="30.9" text-anchor="end" stroke="#000" stroke-width="0.3">20</text>
<text transform="translate(184.8 497.9) scale(1 1.1)" font-size="30.9" text-anchor="end" stroke="#000" stroke-width="0.3">22</text>
<text transform="translate(184.8 432.4) scale(1 1.1)" font-size="30.9" text-anchor="end" stroke="#000" stroke-width="0.3">24</text>
<text x="196.2" y="372" font-size="40" font-style="italic" letter-spacing="0.45">b/a = 0</text>
<text x="814.5" y="372" font-size="40" font-style="italic" letter-spacing="0.45">b/a = 0.3</text>
<text x="219.2" y="591.2" font-size="29.8" fill="#1A3CB4"><tspan font-size="17.9">e</tspan><tspan dy="-9.6" dx="0.9">TE</tspan><tspan font-size="17.9" dy="9.6" dx="0.2">212</tspan></text>
<text x="312.7" y="670.2" font-size="29.8" fill="#000"><tspan font-size="17.9">e</tspan><tspan dy="-10.9" dx="0.9">TE</tspan><tspan font-size="17.9" dy="10.9" dx="1.2">113</tspan></text>
<text x="226.7" y="720.9" font-size="29.8" fill="#1A3CB4"><tspan font-size="17.9">e</tspan><tspan dy="-9.0" dx="0.9">TE</tspan><tspan font-size="17.9" dy="9.2" dx="0.2">211</tspan></text>
<text x="272.3" y="811.3" font-size="29.8" fill="#000"><tspan font-size="17.9">e</tspan><tspan dy="-11.4" dx="-0.3">TE</tspan><tspan font-size="17.9" dy="11.2" dx="1.2">112</tspan></text>
<text x="242.6" y="934.8" font-size="29.8" fill="#000"><tspan font-size="17.9">e</tspan><tspan dy="-11.7" dx="0.3">TE</tspan><tspan font-size="17.9" dy="10.8" dx="1.2">111</tspan></text>
<polygon points="95.4,779.6 95.4,783.6 131.8,800.3 131.8,796.3" fill="#000"/>
<text x="552.5" y="1033.7" font-size="49"><tspan font-style="italic">u</tspan><tspan font-size="30" dy="16.6" dx="-0.5">0</tspan></text>
<text transform="translate(130.9 829.0) rotate(-90) scale(1 1.0)" class="ser" font-style="italic" font-size="48">ω</text>
<text transform="translate(130.9 784.0) rotate(-90) scale(1 1.0)" class="san" font-style="italic" font-size="49">2</text>
<text transform="translate(130.9 753.0) rotate(-90) scale(1 1.0)" class="ser" font-style="italic" font-size="51">π</text>
<text transform="translate(130.9 703.0) rotate(-90) scale(1 1.035)" class="san" font-style="normal" font-size="49">(GHz)</text>
</g>
</svg>
</body></html>
